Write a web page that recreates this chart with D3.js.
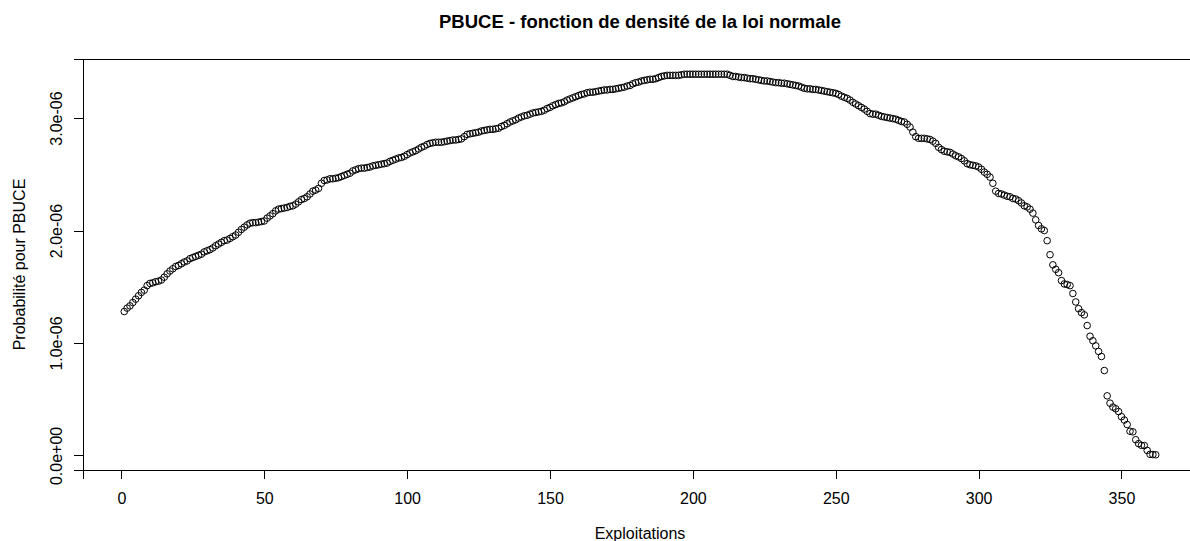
<!DOCTYPE html>
<html>
<head>
<meta charset="utf-8">
<script src="https://cdn.jsdelivr.net/npm/d3@7"></script>
<style>
  html, body { margin: 0; padding: 0; background: #ffffff; }
  svg { display: block; }
  text { font-family: "Liberation Sans", Arial, sans-serif; fill: #000; }
</style>
</head>
<body>
<div id="chart"></div>
<script>
// ---- data (density values, in units of 1e-6) ----
const densityE6 = [
1.28,1.31,1.33,1.36,1.39,1.42,1.45,1.47,1.51,1.53,
1.535,1.545,1.55,1.56,1.585,1.615,1.64,1.66,1.68,1.69,
1.705,1.72,1.73,1.75,1.76,1.77,1.78,1.79,1.81,1.82,
1.83,1.845,1.865,1.88,1.895,1.91,1.915,1.93,1.945,1.96,
1.985,2.01,2.03,2.05,2.065,2.07,2.07,2.075,2.08,2.085,
2.11,2.13,2.15,2.175,2.19,2.195,2.20,2.205,2.215,2.22,
2.235,2.255,2.275,2.285,2.30,2.325,2.35,2.36,2.375,2.42,
2.445,2.45,2.46,2.46,2.465,2.47,2.48,2.49,2.50,2.51,
2.53,2.54,2.55,2.555,2.555,2.56,2.565,2.575,2.58,2.585,
2.59,2.595,2.60,2.615,2.625,2.635,2.645,2.65,2.66,2.675,
2.69,2.70,2.71,2.725,2.74,2.75,2.765,2.775,2.78,2.785,
2.785,2.785,2.79,2.795,2.80,2.805,2.805,2.81,2.815,2.835,
2.855,2.86,2.865,2.87,2.875,2.885,2.89,2.895,2.90,2.90,
2.905,2.91,2.925,2.935,2.95,2.965,2.975,2.985,3.00,3.01,
3.02,3.025,3.035,3.045,3.05,3.055,3.06,3.07,3.085,3.095,
3.11,3.12,3.13,3.135,3.145,3.16,3.17,3.18,3.19,3.20,
3.21,3.215,3.225,3.23,3.23,3.235,3.24,3.245,3.25,3.25,
3.255,3.255,3.26,3.265,3.27,3.275,3.285,3.29,3.305,3.315,
3.32,3.33,3.335,3.34,3.345,3.345,3.35,3.36,3.37,3.375,
3.38,3.38,3.38,3.38,3.38,3.385,3.39,3.39,3.39,3.39,
3.39,3.39,3.39,3.39,3.39,3.39,3.39,3.39,3.39,3.39,
3.39,3.39,3.38,3.37,3.37,3.365,3.36,3.36,3.355,3.35,
3.35,3.345,3.34,3.335,3.33,3.33,3.325,3.32,3.315,3.315,
3.31,3.31,3.305,3.30,3.295,3.29,3.285,3.275,3.265,3.26,
3.26,3.255,3.255,3.25,3.245,3.24,3.235,3.23,3.225,3.22,
3.21,3.195,3.185,3.175,3.16,3.14,3.125,3.11,3.095,3.08,
3.06,3.04,3.035,3.035,3.025,3.015,3.01,3.005,3.00,2.995,
2.99,2.98,2.97,2.965,2.945,2.92,2.875,2.835,2.82,2.82,
2.82,2.815,2.81,2.795,2.775,2.74,2.72,2.705,2.70,2.695,
2.68,2.665,2.655,2.64,2.62,2.595,2.585,2.58,2.575,2.565,
2.545,2.52,2.50,2.475,2.42,2.35,2.33,2.325,2.315,2.305,
2.30,2.285,2.28,2.265,2.245,2.22,2.21,2.19,2.155,2.095,
2.045,2.015,2.00,1.91,1.785,1.695,1.655,1.625,1.555,1.525,
1.52,1.51,1.44,1.365,1.305,1.27,1.25,1.155,1.06,1.02,
0.975,0.925,0.88,0.755,0.53,0.465,0.43,0.415,0.39,0.345,
0.315,0.275,0.215,0.21,0.14,0.105,0.09,0.088,0.045,0.01,
0.008,0.006
];
const unit = 1e-6;
const xTicks = [0, 50, 100, 150, 200, 250, 300, 350];
const yTicks = [0, 1e-6, 2e-6, 3e-6];
const yTickLabels = ["0.0e+00", "1.0e-06", "2.0e-06", "3.0e-06"];
const titleText = "PBUCE - fonction de densité de la loi normale";
const xLabel = "Exploitations";
const yLabel = "Probabilité pour PBUCE";

// ---- build records: x = index (1..N), y = density ----
const points = densityE6.map((v, i) => ({ x: i + 1, y: v * unit }));

// ---- layout ----
const W = 1190, H = 541;
const box = { left: 83, top: 59, right: 1197, bottom: 470 };

// R-style 4% extension of data range
function rRange(ext) { const d = (ext[1] - ext[0]) * 0.04; return [ext[0] - d, ext[1] + d]; }
const xExt = d3.extent(points, d => d.x);
const yExt = d3.extent(points, d => d.y);

const x = d3.scaleLinear().domain(rRange(xExt)).range([box.left, box.right]);
const y = d3.scaleLinear().domain(rRange(yExt)).range([box.bottom, box.top]);

const svg = d3.select("#chart").append("svg")
  .attr("width", W).attr("height", H)
  .attr("viewBox", `0 0 ${W} ${H}`);

svg.append("rect").attr("width", W).attr("height", H).attr("fill", "#fff");

// plot box
svg.append("rect")
  .attr("x", box.left).attr("y", box.top)
  .attr("width", box.right - box.left).attr("height", box.bottom - box.top)
  .attr("fill", "none").attr("stroke", "#000").attr("stroke-width", 1)
  .attr("shape-rendering", "crispEdges");

// x axis
const xAxis = d3.axisBottom(x).tickValues(xTicks).tickSize(9).tickPadding(6).tickFormat(d3.format("d"));
const gx = svg.append("g").attr("transform", `translate(0,${box.bottom})`).call(xAxis);
gx.selectAll("path,line").attr("stroke", "#000").attr("shape-rendering", "crispEdges");
gx.selectAll("text").attr("font-size", 16).attr("font-family", "Liberation Sans, Arial, sans-serif")
  .attr("fill", "#000").attr("dy", null).attr("y", 34);

// y axis
const yAxis = d3.axisLeft(y).tickValues(yTicks).tickSize(9).tickFormat((d, i) => yTickLabels[i]);
const gy = svg.append("g").attr("transform", `translate(${box.left},0)`).call(yAxis);
gy.selectAll("path,line").attr("stroke", "#000").attr("shape-rendering", "crispEdges");
gy.selectAll("text")
  .attr("font-size", 16).attr("font-family", "Liberation Sans, Arial, sans-serif").attr("fill", "#000")
  .attr("x", null).attr("dy", null)
  .attr("text-anchor", "middle")
  .attr("transform", "translate(-21.5,0) rotate(-90)");

// points
svg.append("g").selectAll("circle").data(points).join("circle")
  .attr("cx", d => x(d.x)).attr("cy", d => y(d.y)).attr("r", 3.3)
  .attr("fill", "none").attr("stroke", "#000").attr("stroke-width", 1);

// title
svg.append("text").attr("x", (box.left + box.right) / 2).attr("y", 28)
  .attr("text-anchor", "middle").attr("font-size", 18.5).attr("font-weight", "bold")
  .text(titleText);

// axis labels
svg.append("text").attr("x", (box.left + box.right) / 2).attr("y", 539)
  .attr("text-anchor", "middle").attr("font-size", 16).text(xLabel);

svg.append("text")
  .attr("transform", `translate(25,${(box.top + box.bottom) / 2}) rotate(-90)`)
  .attr("text-anchor", "middle").attr("font-size", 16).text(yLabel);
</script>
</body>
</html>
